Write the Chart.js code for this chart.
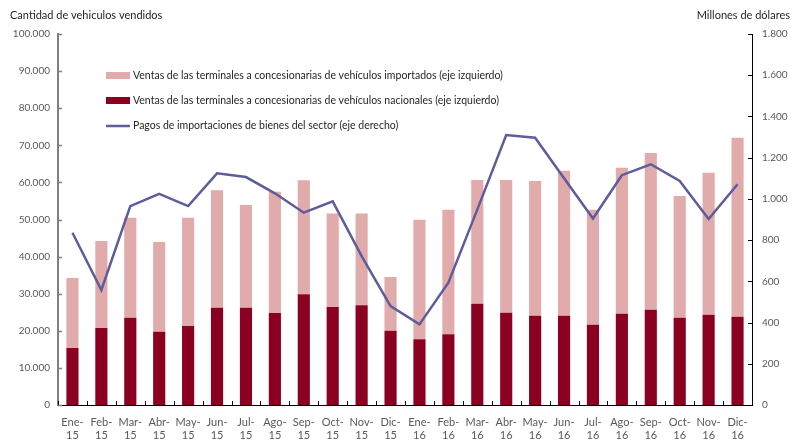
<!DOCTYPE html>
<html><head><meta charset="utf-8">
<script src="https://cdn.jsdelivr.net/npm/chart.js@4/dist/chart.umd.min.js"></script>
<style>html,body{margin:0;padding:0;background:#fff}canvas{display:block}</style>
</head><body>
<canvas id="c" width="793" height="443"></canvas>
<script>
const categories = [
  ["Ene-","15"],["Feb-","15"],["Mar-","15"],["Abr-","15"],["May-","15"],["Jun-","15"],
  ["Jul-","15"],["Ago-","15"],["Sep-","15"],["Oct-","15"],["Nov-","15"],["Dic-","15"],
  ["Ene-","16"],["Feb-","16"],["Mar-","16"],["Abr-","16"],["May-","16"],["Jun-","16"],
  ["Jul-","16"],["Ago-","16"],["Sep-","16"],["Oct-","16"],["Nov-","16"],["Dic-","16"]
];
const nacionales = [15360,20750,23530,19760,21290,26230,26230,24800,29830,26420,26870,20030,
                    17700,19050,27300,24880,24070,24070,21650,24610,25690,23530,24340,23800];
const importados = [18870,23450,26950,24170,29190,31640,27670,32700,30730,25230,24780,14470,
                    32250,33590,33350,35770,36310,39090,30990,39360,42230,32800,38280,48250];
const pagos = [836,558,965,1024,965,1124,1106,1027,933,988,722,480,
               391,593,948,1310,1297,1100,905,1115,1168,1087,902,1071];
const leftTicks = {min:0, max:100000, step:10000};
const rightTicks = {min:0, max:1800, step:200};
const labelImp = "Ventas de las terminales a concesionarias de vehículos importados (eje izquierdo)";
const labelNac = "Ventas de las terminales a concesionarias de vehículos nacionales (eje izquierdo)";
const labelPag = "Pagos de importaciones de bienes del sector (eje derecho)";
const titleLeft = "Cantidad de vehiculos vendidos";
const titleRight = "Millones de dólares";

const FONT = "Lato, 'Open Sans', sans-serif";
const C_IMP = '#E2ABAB', C_NAC = '#8B0020', C_LINE = '#5D5D9A';
const fmt = v => String(v).replace(/\B(?=(\d{3})+(?!\d))/g, '.');

const deco = {
  id: 'deco',
  afterDraw(chart) {
    const ctx = chart.ctx, a = chart.chartArea;
    const {x, y, y1} = chart.scales;
    ctx.save();
    // inward ticks
    ctx.lineWidth = 1;
    ctx.strokeStyle = '#000';
    for (let i = 0; i <= categories.length; i++) {
      const px = Math.round(x.getPixelForValue(i - 0.5)) + 0.5;
      ctx.beginPath(); ctx.moveTo(px, a.bottom); ctx.lineTo(px, a.bottom - 4); ctx.stroke();
    }
    ctx.strokeStyle = '#7f7f7f';
    ctx.lineWidth = 1.5;
    y.ticks.forEach(t => {
      const py = Math.round(y.getPixelForValue(t.value)) + 0.5;
      ctx.beginPath(); ctx.moveTo(a.left, py); ctx.lineTo(a.left + 4, py); ctx.stroke();
    });
    ctx.strokeStyle = '#000';
    ctx.lineWidth = 1;
    y1.ticks.forEach(t => {
      const py = Math.round(y1.getPixelForValue(t.value)) + 0.5;
      ctx.beginPath(); ctx.moveTo(a.right, py); ctx.lineTo(a.right - 4, py); ctx.stroke();
    });
    // titles
    ctx.fillStyle = '#262626';
    ctx.font = "11px " + FONT;
    ctx.textBaseline = 'middle';
    ctx.textAlign = 'left';
    ctx.fillText(titleLeft, 10, 15);
    ctx.textAlign = 'right';
    ctx.fillText(titleRight, 790, 15);
    // legend
    ctx.textAlign = 'left';
    ctx.font = "10.5px " + FONT;
    const lx = 106, tx = 133;
    ctx.fillStyle = C_IMP; ctx.fillRect(lx, 72, 24, 7);
    ctx.fillStyle = C_NAC; ctx.fillRect(lx, 97, 24, 7);
    ctx.strokeStyle = C_LINE; ctx.lineWidth = 2.5;
    ctx.beginPath(); ctx.moveTo(lx, 126); ctx.lineTo(lx + 24, 126); ctx.stroke();
    ctx.fillStyle = '#262626';
    ctx.fillText(labelImp, tx, 75.5);
    ctx.fillText(labelNac, tx, 100.5);
    ctx.fillText(labelPag, tx, 126);
    ctx.restore();
  }
};

new Chart(document.getElementById('c'), {
  data: {
    labels: categories,
    datasets: [
      {type:'line', label: labelPag, data: pagos, yAxisID:'y1', borderColor: C_LINE, borderWidth: 2.5,
       pointRadius: 0, tension: 0, fill: false, order: 0},
      {type:'bar', label: labelNac, data: nacionales, yAxisID:'y', backgroundColor: C_NAC, stack:'s', order: 1,
       barPercentage: 0.42, categoryPercentage: 1},
      {type:'bar', label: labelImp, data: importados, yAxisID:'y', backgroundColor: C_IMP, stack:'s', order: 1,
       barPercentage: 0.42, categoryPercentage: 1}
    ]
  },
  options: {
    responsive: false,
    animation: false,
    layout: {padding: {top: 34, left: 0, right: 0, bottom: 0}},
    plugins: {legend: {display: false}, tooltip: {enabled: false}, title: {display: false}},
    scales: {
      x: {
        stacked: true, offset: true,
        grid: {display: false, drawTicks: false},
        border: {display: true, color: '#000', width: 1},
        ticks: {color: '#595959', font: {family: FONT, size: 11, lineHeight: 1.15}, padding: 11, maxRotation: 0, autoSkip: false},
        afterFit: s => { s.height = 38; }
      },
      y: {
        stacked: true, position: 'left', min: leftTicks.min, max: leftTicks.max,
        grid: {display: false, drawTicks: false},
        border: {display: true, color: '#7f7f7f', width: 2},
        ticks: {stepSize: leftTicks.step, color: '#595959', font: {family: FONT, size: 10}, padding: 8, callback: v => fmt(v)},
        afterFit: s => { s.width = 58; }
      },
      y1: {
        position: 'right', min: rightTicks.min, max: rightTicks.max,
        grid: {display: false, drawTicks: false},
        border: {display: true, color: '#000', width: 1},
        ticks: {stepSize: rightTicks.step, color: '#595959', font: {family: FONT, size: 10}, padding: 10, callback: v => fmt(v)},
        afterFit: s => { s.width = 41; }
      }
    }
  },
  plugins: [deco]
});
</script>
</body></html>
